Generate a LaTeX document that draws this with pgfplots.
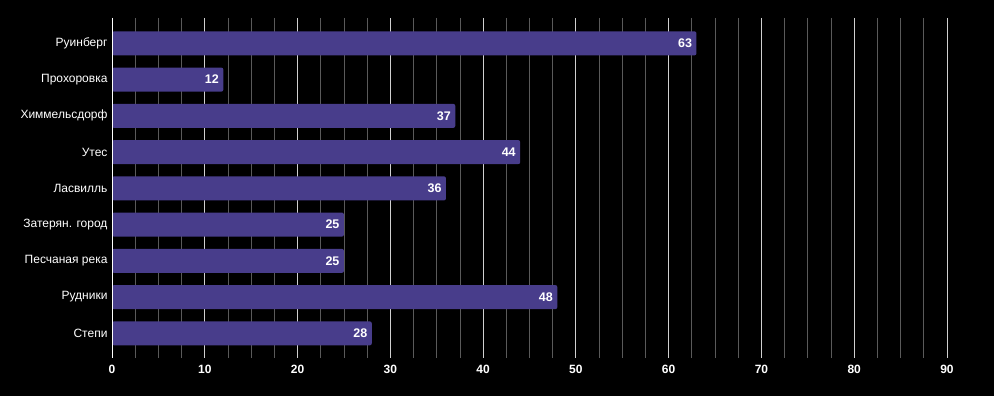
\documentclass[border=0pt]{standalone}
\usepackage{pgfplots}
\pgfplotsset{compat=1.18}
\usepackage{fontspec}
\setmainfont{Liberation Sans}
\definecolor{barc}{HTML}{483D8B}
\definecolor{majg}{HTML}{D0D0D0}
\definecolor{ming}{HTML}{5A5A5A}
\begin{document}
\begin{tikzpicture}[x=1pt,y=1pt]
\fill[black] (0,0) rectangle (994,396);
\useasboundingbox (0,0) rectangle (994,396);
\begin{axis}[
  at={(112pt,38pt)}, anchor=south west,
  scale only axis, width=835pt, height=340pt,
  xmin=0, xmax=90,
  ymin=-0.7, ymax=8.68,
  y dir=reverse,
  xbar, bar width=24pt,
  axis line style={draw=none},
  ytick={0,...,8},
  yticklabels={Руинберг,Прохоровка,Химмельсдорф,Утес,Ласвилль,Затерян. город,Песчаная река,Рудники,Степи},
  xtick={0,10,...,90},
  minor x tick num=3,
  xmajorgrids, xminorgrids,
  major grid style={draw=majg, line width=0.9pt},
  minor grid style={draw=ming, line width=0.8pt},
  major tick length=0pt, minor tick length=0pt,
  ytick style={draw=none},
  tick label style={color=white},
  xticklabel style={font=\fontsize{12}{14}\selectfont\bfseries, yshift=-4pt},
  yticklabel style={font=\fontsize{12}{14}\selectfont, xshift=-1pt},
  /pgf/number format/assume math mode=true,
  nodes near coords,
  every node near coord/.append style={anchor=east, color=white, font=\fontsize{12.5}{14}\selectfont\bfseries, xshift=-1pt},
  clip=false,
]
\addplot[fill=barc, draw=none, rounded corners=2pt] coordinates {
(63,0) (12,1) (37,2) (44,3) (36,4) (25,5) (25,6) (48,7) (28,8)};
\draw[white, line width=1pt] (axis cs:0,-0.7) -- (axis cs:0,8.68);
\end{axis}
\end{tikzpicture}
\end{document}
